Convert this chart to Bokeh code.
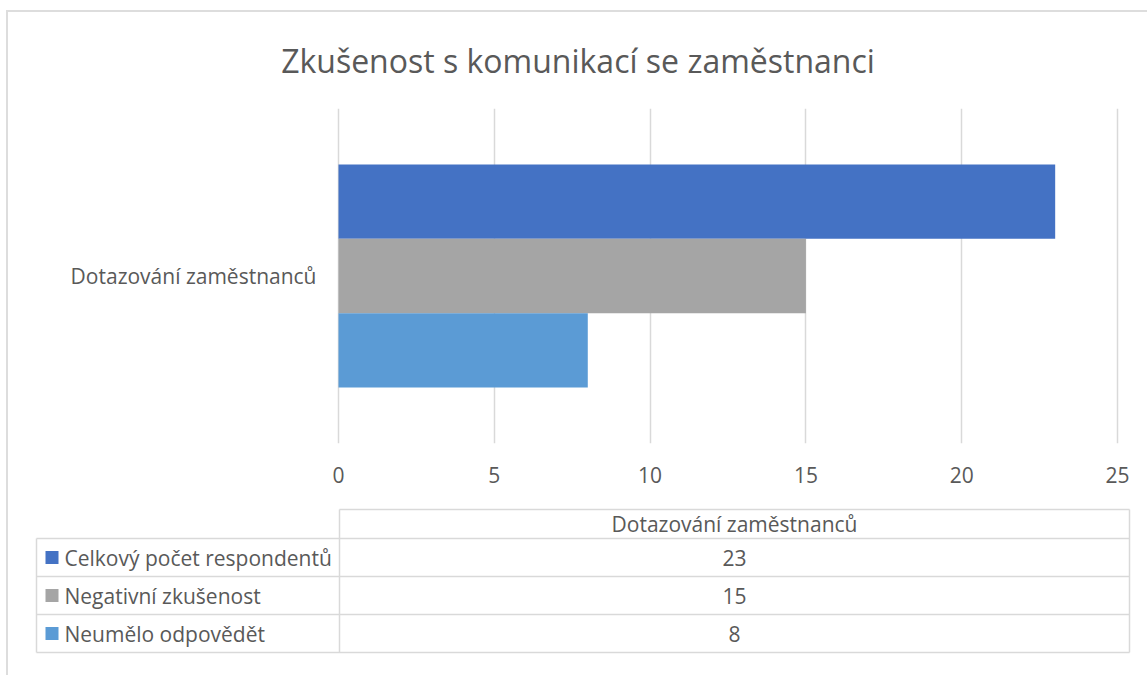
from bokeh.plotting import figure
from bokeh.models import Range1d, FactorRange, FixedTicker, ColumnDataSource
from bokeh.layouts import column
from bokeh.transform import dodge
from bokeh.core.properties import value
from bokeh.embed import file_html
from bokeh.resources import INLINE

# ---------------- data ----------------
title_text = "Zkušenost s komunikací se zaměstnanci"
categories = ["Dotazování zaměstnanců"]
series_names = ["Celkový počet respondentů", "Negativní zkušenost", "Neumělo odpovědět"]
series_values = [23, 15, 8]
series_colors = ["#4472C4", "#A5A5A5", "#5B9BD5"]
x_ticks = [0, 5, 10, 15, 20, 25]

# ---------------- style ----------------
FONT = "Open Sans"
TXT = "#595959"
GRID = "#D9D9D9"
LBL = "21px"

W = 1139                      # figure width (page x 8 .. 1147)
ORG_X, ORG_Y = 8, 12          # page position of figure origin
X_MIN, X_MAX = x_ticks[0], x_ticks[-1]
PX_MIN, PX_MAX = 338 - ORG_X, 1117 - ORG_X   # figure px of axis min / max
scale = (PX_MAX - PX_MIN) / (X_MAX - X_MIN)
x_start = X_MIN - PX_MIN / scale
x_end = X_MAX + (W - PX_MAX) / scale

# ---------------- chart ----------------
H1 = 500 - ORG_Y
p = figure(width=W, height=H1,
           y_range=FactorRange(factors=categories, range_padding=0),
           x_range=Range1d(x_start, x_end),
           y_axis_location=None,
           output_backend="svg", toolbar_location=None,
           min_border_left=0, min_border_right=0,
           min_border_top=108 - ORG_Y, min_border_bottom=H1 - (443 - ORG_Y))

p.title.text = title_text
p.title.text_font = FONT
p.title.text_font_size = "32px"
p.title.text_font_style = "normal"
p.title.text_color = TXT
p.title.align = "center"
p.title.vertical_align = "middle"
p.title.offset = 10
p.title.standoff = 51

bar_h = 0.222
n = len(series_values)
for i, (name, v, c) in enumerate(zip(series_names, series_values, series_colors)):
    off = bar_h * ((n - 1) / 2 - i)
    src = ColumnDataSource(dict(cat=categories, val=[v]))
    p.hbar(y=dodge("cat", off, range=p.y_range), left=0, right="val",
           height=bar_h, source=src, fill_color=c, line_color=None)

# category label (left of the value axis)
p.text(x=[X_MIN - 22 / scale], y=categories, text=categories,
       text_font=value(FONT), text_font_size=LBL, text_color=TXT,
       text_align="right", text_baseline="middle")

p.outline_line_color = None
p.ygrid.visible = False
p.xgrid.ticker = FixedTicker(ticks=x_ticks)
p.xgrid.grid_line_color = GRID
p.xgrid.grid_line_width = 1.5

p.xaxis.ticker = FixedTicker(ticks=x_ticks)
p.xaxis.axis_line_color = None
p.xaxis.major_tick_line_color = None
p.xaxis.minor_tick_line_color = None
p.xaxis.major_label_text_font = FONT
p.xaxis.major_label_text_font_size = LBL
p.xaxis.major_label_text_color = TXT
p.xaxis.major_label_standoff = 17

# ---------------- data table ----------------
TL, TD, TR = 36, 339, 1129          # left edge, divider, right edge (page px)
HEAD_TOP, ROW_TOP, ROW_H = 509, 538, 38

t = figure(width=W, height=675 - 500,
           x_range=Range1d(ORG_X, ORG_X + W), y_range=Range1d(675, 500),
           output_backend="svg", toolbar_location=None, min_border=0,
           x_axis_type=None, y_axis_type=None)
t.outline_line_color = None
t.grid.visible = False

rows_y = [ROW_TOP + ROW_H * (i + 0.5) for i in range(n)]
h_lines_y = [ROW_TOP + ROW_H * k for k in range(n + 1)]

xs0 = [TD] + [TL] * len(h_lines_y)
ys0 = [HEAD_TOP] + h_lines_y
t.segment(x0=xs0, y0=ys0, x1=[TR] * len(xs0), y1=ys0,
          line_color=GRID, line_width=1.5)
bottom = h_lines_y[-1]
t.segment(x0=[TL, TD, TR], y0=[ROW_TOP, HEAD_TOP, HEAD_TOP],
          x1=[TL, TD, TR], y1=[bottom] * 3, line_color=GRID, line_width=1.5)

mid = (TD + TR) / 2
t.text(x=[mid], y=[(HEAD_TOP + ROW_TOP) / 2], text=categories,
       text_font=value(FONT), text_font_size=LBL, text_color=TXT,
       text_align="center", text_baseline="middle")

t.rect(x=[TL + 15.5] * n, y=rows_y, width=13, height=13,
       fill_color=series_colors, line_color=None)
t.text(x=[TL + 28] * n, y=rows_y, text=series_names,
       text_font=value(FONT), text_font_size=LBL, text_color=TXT,
       text_align="left", text_baseline="middle")
t.text(x=[mid] * n, y=rows_y, text=[str(v) for v in series_values],
       text_font=value(FONT), text_font_size=LBL, text_color=TXT,
       text_align="center", text_baseline="middle")

layout = column(p, t, spacing=0,
                styles={"border-top": "2px solid #DDDDDD",
                        "border-left": "2px solid #DDDDDD",
                        "margin-left": "6px", "margin-top": "10px"})

open("out.html", "w").write(file_html(layout, INLINE))
